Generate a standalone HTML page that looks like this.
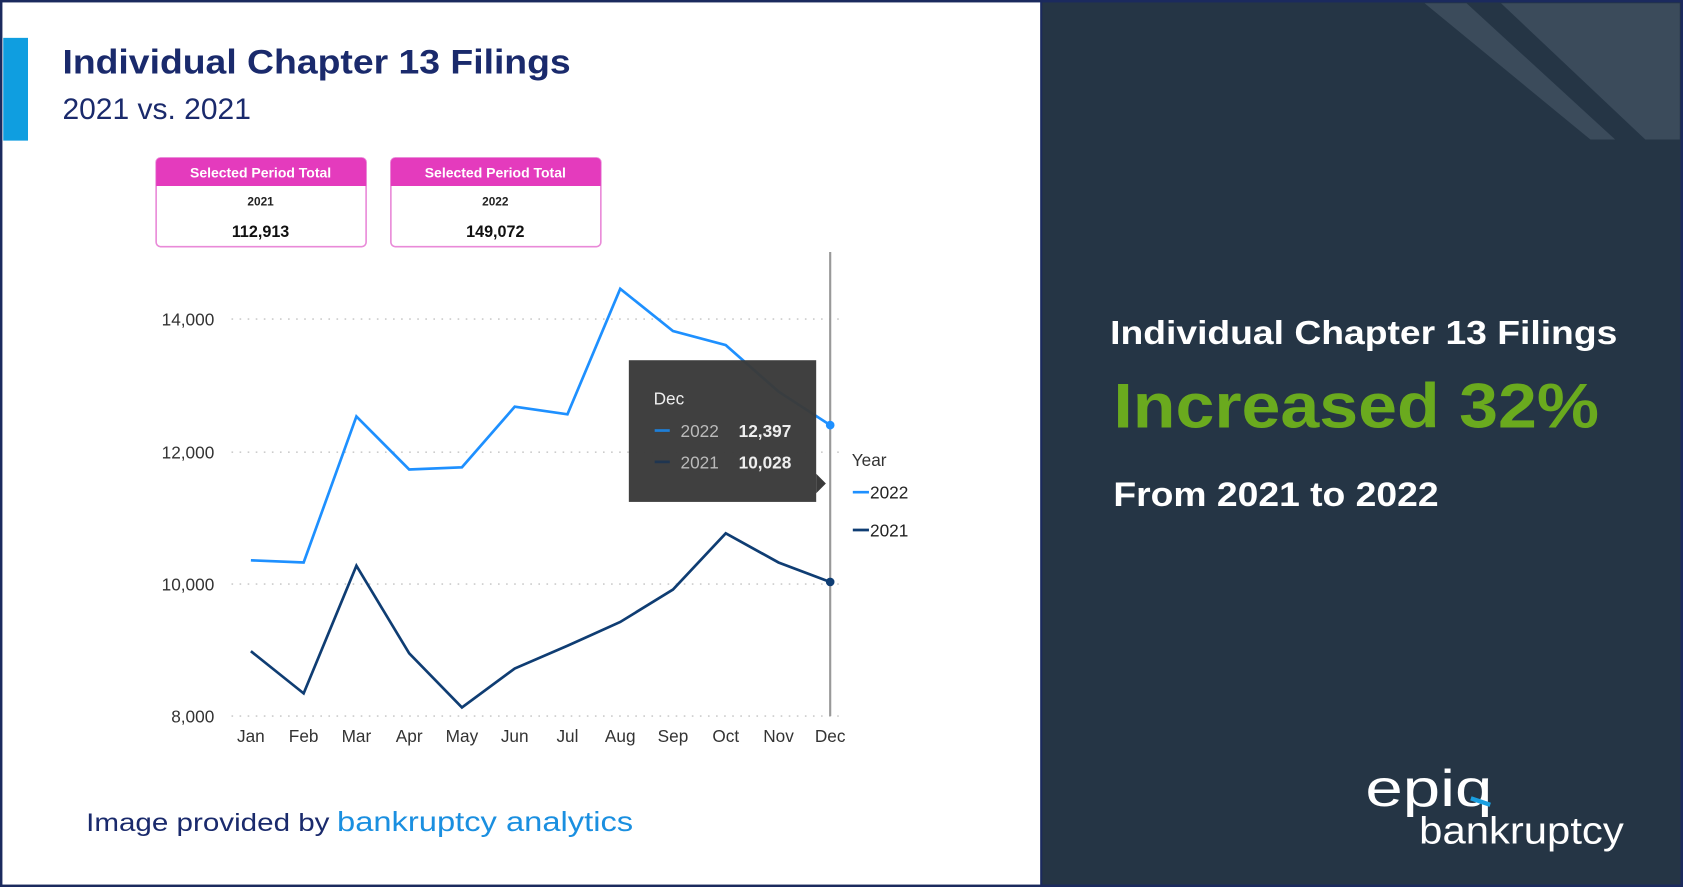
<!DOCTYPE html>
<html><head><meta charset="utf-8"><style>
html,body{margin:0;padding:0;background:#fff;}
svg{display:block;}
text{font-family:"Liberation Sans",sans-serif;}
</style></head><body>
<svg width="1683" height="887" viewBox="0 0 1563 820" preserveAspectRatio="none" xmlns="http://www.w3.org/2000/svg">
<rect x="0" y="0" width="1563" height="820" fill="#fff"/>
<rect x="967" y="0" width="596" height="820" fill="#253545"/>
<polygon points="1323,3 1362,3 1500,129 1477,129" fill="#3b4b5b"/>
<polygon points="1394,3 1560,3 1560,129 1528,129" fill="#3b4b5b"/>
<rect x="1" y="1" width="1561" height="818" fill="none" stroke="#1b2a5e" stroke-width="2.5"/>
<line x1="967" y1="0" x2="967" y2="820" stroke="#1b2a5e" stroke-width="2"/>
<rect x="3" y="35" width="23" height="95" fill="#0f9ee0"/>
<text x="58" y="68" font-size="32" font-weight="bold" fill="#1a2a6c" textLength="472" lengthAdjust="spacingAndGlyphs">Individual Chapter 13 Filings</text>
<text x="58" y="110" font-size="27" fill="#1a2a6c" textLength="175" lengthAdjust="spacingAndGlyphs">2021 vs. 2021</text>
<g>
<rect x="145" y="146" width="195" height="82" rx="4" fill="#fff" stroke="#e98ad8" stroke-width="1.5"/>
<path d="M145,172 V150 a4,4 0 0 1 4,-4 H336 a4,4 0 0 1 4,4 V172 Z" fill="#e43bbd"/>
<text x="242" y="164" font-size="13" font-weight="bold" fill="#fff" text-anchor="middle">Selected Period Total</text>
<text x="242" y="190" font-size="11" font-weight="bold" fill="#222" text-anchor="middle">2021</text>
<text x="242" y="219" font-size="15" font-weight="bold" fill="#111" text-anchor="middle">112,913</text>
<rect x="363" y="146" width="195" height="82" rx="4" fill="#fff" stroke="#e98ad8" stroke-width="1.5"/>
<path d="M363,172 V150 a4,4 0 0 1 4,-4 H554 a4,4 0 0 1 4,4 V172 Z" fill="#e43bbd"/>
<text x="460" y="164" font-size="13" font-weight="bold" fill="#fff" text-anchor="middle">Selected Period Total</text>
<text x="460" y="190" font-size="11" font-weight="bold" fill="#222" text-anchor="middle">2022</text>
<text x="460" y="219" font-size="15" font-weight="bold" fill="#111" text-anchor="middle">149,072</text>
</g>
<g stroke="#ccc" stroke-width="1.5" stroke-dasharray="1.5,6">
<line x1="215" y1="295" x2="785" y2="295"/><line x1="215" y1="418" x2="785" y2="418"/>
<line x1="215" y1="540" x2="785" y2="540"/><line x1="215" y1="662" x2="785" y2="662"/>
</g>
<g font-size="16" fill="#333" text-anchor="end">
<text x="199" y="301">14,000</text><text x="199" y="424">12,000</text><text x="199" y="546">10,000</text><text x="199" y="668">8,000</text>
</g>
<g font-size="16" fill="#333" text-anchor="middle">
<text x="233" y="686">Jan</text><text x="282" y="686">Feb</text><text x="331" y="686">Mar</text><text x="380" y="686">Apr</text><text x="429" y="686">May</text><text x="478" y="686">Jun</text><text x="527" y="686">Jul</text><text x="576" y="686">Aug</text><text x="625" y="686">Sep</text><text x="674" y="686">Oct</text><text x="723" y="686">Nov</text><text x="771" y="686">Dec</text>
</g>
<line x1="771" y1="233" x2="771" y2="662" stroke="#999" stroke-width="2"/>
<polyline fill="none" stroke="#1e90ff" stroke-width="2.5" points="233,518 282,520 331,385 380,434 429,432 478,376 527,383 576,267 625,306 674,319 723,362 771,393"/>
<polyline fill="none" stroke="#0f3d73" stroke-width="2.5" points="233,602 282,641 331,523 380,604 429,654 478,618 527,597 576,575 625,545 674,493 723,520 771,538"/>
<circle cx="771" cy="393" r="4" fill="#1e90ff"/>
<circle cx="771" cy="538" r="4" fill="#0f3d73"/>
<rect x="584" y="333" width="174" height="131" fill="#3a3a3a" opacity="0.97"/>
<polygon points="758,438 767,447 758,456" fill="#3a3a3a"/>
<text x="607" y="374" font-size="16" fill="#eee">Dec</text>
<line x1="608" y1="398" x2="622" y2="398" stroke="#1e7fd8" stroke-width="2.5"/>
<text x="632" y="404" font-size="16" fill="#bbb">2022</text>
<text x="686" y="404" font-size="16" font-weight="bold" fill="#eee">12,397</text>
<line x1="608" y1="427" x2="622" y2="427" stroke="#1f3550" stroke-width="2.5"/>
<text x="632" y="433" font-size="16" fill="#bbb">2021</text>
<text x="686" y="433" font-size="16" font-weight="bold" fill="#eee">10,028</text>
<text x="791" y="431" font-size="16" fill="#333">Year</text>
<line x1="792" y1="455" x2="807" y2="455" stroke="#1e90ff" stroke-width="2.5"/>
<text x="808" y="461" font-size="16" fill="#222">2022</text>
<line x1="792" y1="490" x2="807" y2="490" stroke="#0f3d73" stroke-width="2.5"/>
<text x="808" y="496" font-size="16" fill="#222">2021</text>
<text x="80" y="768" font-size="23" fill="#1a2a6c" textLength="226" lengthAdjust="spacingAndGlyphs">Image provided by</text>
<text x="313" y="768" font-size="26" fill="#1a8fe0" textLength="275" lengthAdjust="spacingAndGlyphs">bankruptcy analytics</text>
<text x="1031" y="318" font-size="31" font-weight="bold" fill="#fff" textLength="471" lengthAdjust="spacingAndGlyphs">Individual Chapter 13 Filings</text>
<text x="1034" y="395" font-size="58" font-weight="bold" fill="#6aaa1e" textLength="451" lengthAdjust="spacingAndGlyphs">Increased 32%</text>
<text x="1034" y="468" font-size="32" font-weight="bold" fill="#fff" textLength="302" lengthAdjust="spacingAndGlyphs">From 2021 to 2022</text>
<text x="1268" y="745" font-size="48" fill="#fff" textLength="118" lengthAdjust="spacingAndGlyphs">epiq</text>
<line x1="1366" y1="738" x2="1384" y2="744" stroke="#1a9fe0" stroke-width="4"/>
<text x="1318" y="780" font-size="35" fill="#fff" textLength="190" lengthAdjust="spacingAndGlyphs">bankruptcy</text>
</svg>
</body></html>
